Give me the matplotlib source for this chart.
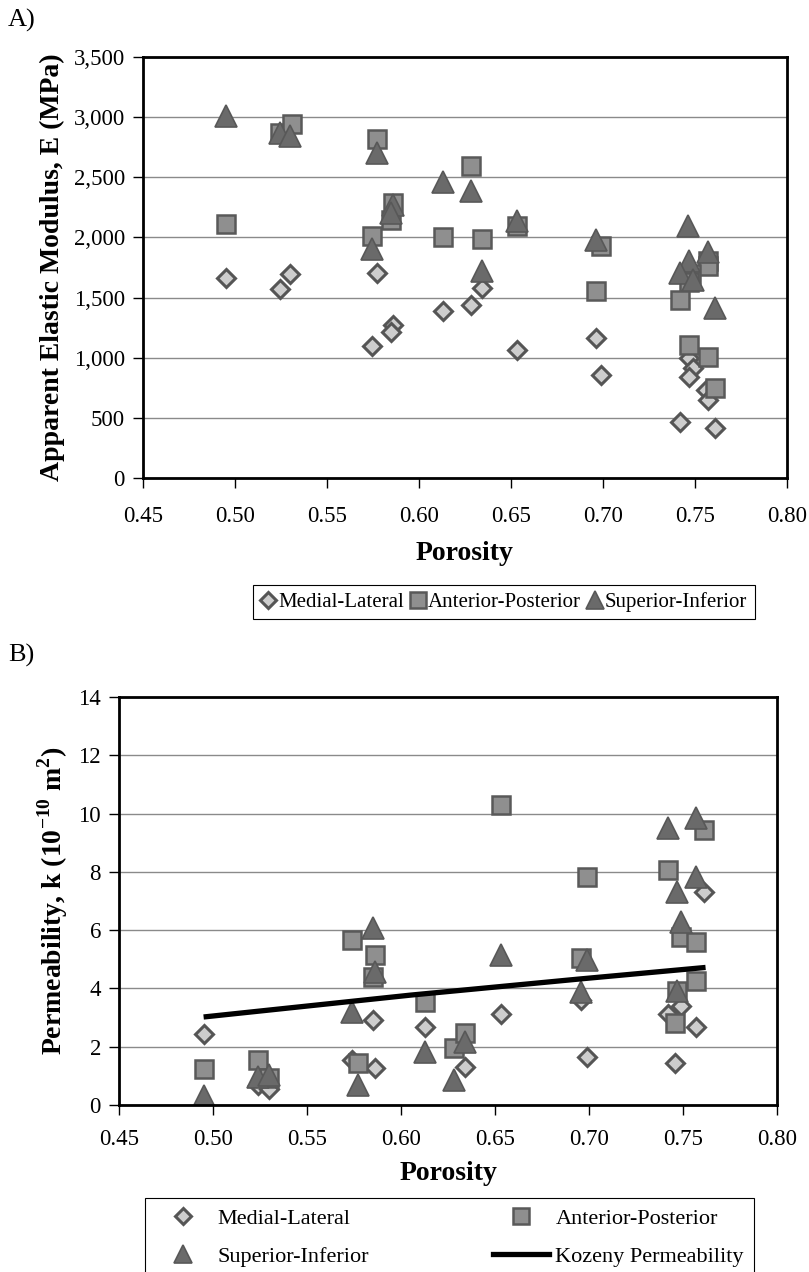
import matplotlib
matplotlib.use("Agg")
import matplotlib.pyplot as plt
from matplotlib.lines import Line2D
from matplotlib.ticker import FuncFormatter

# fontes tipo Times
plt.rcParams['font.family'] = ['Liberation Serif', 'DejaVu Serif']
plt.rcParams['mathtext.fontset'] = 'custom'
plt.rcParams['mathtext.rm'] = 'Liberation Serif'
plt.rcParams['mathtext.bf'] = 'Liberation Serif:bold'

# ---------------- A) modulo elastico ----------------
ml_por_a = [0.495, 0.5245, 0.530, 0.5747, 0.577, 0.586, 0.585, 0.6133, 0.6283, 0.6342,
            0.653, 0.696, 0.699, 0.747, 0.749, 0.747, 0.756, 0.757, 0.742, 0.761]
ml_E = [1662, 1570, 1695, 1098, 1708, 1272, 1212, 1389, 1439, 1583,
        1064, 1162, 856, 995, 912, 842, 731, 647, 467, 412]

ap_por_a = [0.495, 0.5245, 0.5308, 0.577, 0.586, 0.585, 0.5746, 0.6133, 0.6283, 0.6342,
            0.653, 0.699, 0.696, 0.757, 0.757, 0.748, 0.747, 0.742, 0.747, 0.757, 0.761]
ap_E = [2112, 2870, 2945, 2820, 2287, 2147, 2008, 2000, 2592, 1987,
        2097, 1931, 1558, 1800, 1760, 1700, 1633, 1481, 1106, 1008, 745]

si_por_a = [0.495, 0.5245, 0.530, 0.577, 0.586, 0.585, 0.5746, 0.6133, 0.6283, 0.6342,
            0.653, 0.696, 0.746, 0.757, 0.747, 0.742, 0.761, 0.749]
si_E = [3008, 2870, 2842, 2703, 2270, 2200, 1903, 2458, 2389, 1717,
        2140, 1981, 2092, 1883, 1800, 1703, 1412, 1650]

# ---------------- B) permeabilidade ----------------
ml_por_b = [0.495, 0.524, 0.530, 0.574, 0.585, 0.586, 0.613, 0.634, 0.653, 0.696,
            0.699, 0.742, 0.749, 0.746, 0.757, 0.761]
ml_k = [2.42, 0.68, 0.55, 1.56, 2.93, 1.28, 2.68, 1.29, 3.11, 3.60,
        1.65, 3.12, 3.39, 1.43, 2.68, 7.30]

ap_por_b = [0.495, 0.524, 0.530, 0.574, 0.577, 0.586, 0.585, 0.613, 0.628, 0.634,
            0.653, 0.696, 0.699, 0.742, 0.761, 0.749, 0.757, 0.757, 0.747, 0.746]
ap_k = [1.24, 1.54, 0.91, 5.67, 1.45, 5.14, 4.39, 3.54, 1.94, 2.48,
        10.31, 5.05, 7.84, 8.05, 9.42, 5.76, 5.59, 4.26, 3.91, 2.82]

si_por_b = [0.495, 0.524, 0.530, 0.574, 0.577, 0.585, 0.586, 0.613, 0.628, 0.634,
            0.653, 0.696, 0.699, 0.742, 0.757, 0.757, 0.747, 0.749, 0.747]
si_k = [0.31, 0.97, 1.03, 3.20, 0.70, 6.07, 4.56, 1.83, 0.86, 2.17,
        5.14, 3.88, 4.97, 9.51, 9.85, 7.82, 7.30, 6.28, 3.90]

kozeny_por = [0.495, 0.605, 0.696, 0.762]
kozeny_k = [3.02, 3.77, 4.33, 4.72]

x_ticks = [0.45, 0.50, 0.55, 0.60, 0.65, 0.70, 0.75, 0.80]
labels = ['Medial-Lateral', 'Anterior-Posterior', 'Superior-Inferior', 'Kozeny Permeability']

# estilos dos marcadores
ml_style = dict(marker='D', ms=9, mfc='#cdcdcd', mec='#555555', mew=2.2, ls='none')
ap_style = dict(marker='s', ms=13, mfc='#8f8f8f', mec='#595959', mew=1.8, ls='none')
si_style = dict(marker='^', ms=16, mfc='#6a6a6a', mec='#585858', mew=1.2, ls='none')

fig = plt.figure(figsize=(8.09, 12.72), dpi=100)


def estilo_eixo(ax, xpad):
    for s in ax.spines.values():
        s.set_linewidth(2.0)
        s.set_color('black')
    ax.set_xlim(0.45, 0.80)
    ax.set_xticks(x_ticks)
    ax.xaxis.set_major_formatter(FuncFormatter(lambda v, p: '%.2f' % v))
    ax.tick_params(axis='x', direction='out', length=7, width=1, labelsize=16.5, pad=xpad)
    ax.tick_params(axis='y', direction='out', length=7, width=1, labelsize=16.5, pad=6)
    ax.yaxis.grid(True, color='#8a8a8a', lw=1.0)
    ax.set_axisbelow(True)


# painel A
axA = fig.add_axes([143 / 809, 1 - 478 / 1272, 644 / 809, 421 / 1272])
axA.plot(ml_por_a, ml_E, **ml_style)
axA.plot(ap_por_a, ap_E, **ap_style)
axA.plot(si_por_a, si_E, **si_style)
axA.set_ylim(0, 3500)
axA.set_yticks(range(0, 3501, 500))
axA.yaxis.set_major_formatter(FuncFormatter(lambda v, p: '{:,.0f}'.format(v)))
estilo_eixo(axA, 13)
axA.set_xlabel('Porosity', fontsize=20, fontweight='bold', labelpad=10)
axA.set_ylabel('Apparent Elastic Modulus, E (MPa)', fontsize=20, fontweight='bold', labelpad=6)

hA = [Line2D([], [], **ml_style), Line2D([], [], **ap_style), Line2D([], [], **si_style)]
legA = fig.legend(hA, labels[:3], loc='center', bbox_to_anchor=(0.623, 1 - 602 / 1272),
                  ncol=3, fontsize=15, frameon=True, fancybox=False, framealpha=1,
                  edgecolor='black', handlelength=0.7, handletextpad=0.15, columnspacing=0.3,
                  borderpad=0.35, markerscale=0.85)
legA.get_frame().set_linewidth(0.8)

# painel B
axB = fig.add_axes([119 / 809, 1 - 1105 / 1272, 658 / 809, 408 / 1272])
axB.plot(ml_por_b, ml_k, **ml_style)
axB.plot(ap_por_b, ap_k, **ap_style)
axB.plot(si_por_b, si_k, **si_style)
axB.plot(kozeny_por, kozeny_k, color='black', lw=3.8, solid_capstyle='butt')
axB.set_ylim(0, 14)
axB.set_yticks(range(0, 15, 2))
estilo_eixo(axB, 10)
axB.set_xlabel('Porosity', fontsize=20, fontweight='bold', labelpad=8)
axB.set_ylabel(r'Permeability, k (10$^{\mathbf{-10}}$ m$^{\mathbf{2}}$)', fontsize=20,
               fontweight='bold', labelpad=6)

hB = [Line2D([], [], **ml_style), Line2D([], [], **ap_style), Line2D([], [], **si_style),
      Line2D([], [], color='black', lw=3.8)]
legB = fig.legend([hB[0], hB[2], hB[1], hB[3]], [labels[0], labels[2], labels[1], labels[3]],
                  loc='upper center', bbox_to_anchor=(0.5556, 1 - 1198 / 1272),
                  borderaxespad=0, ncol=2, fontsize=16, frameon=True, fancybox=False,
                  framealpha=1, edgecolor='black', handlelength=2.5, handletextpad=0.3,
                  columnspacing=5.6, borderpad=0.45, labelspacing=0.8, markerscale=0.85)
legB.get_frame().set_linewidth(0.8)

fig.text(8 / 809, 1 - 20 / 1272, 'A)', fontsize=19, ha='left', va='center')
fig.text(8 / 809, 1 - 655 / 1272, 'B)', fontsize=19, ha='left', va='center')

fig.savefig('out.png', dpi=100)
